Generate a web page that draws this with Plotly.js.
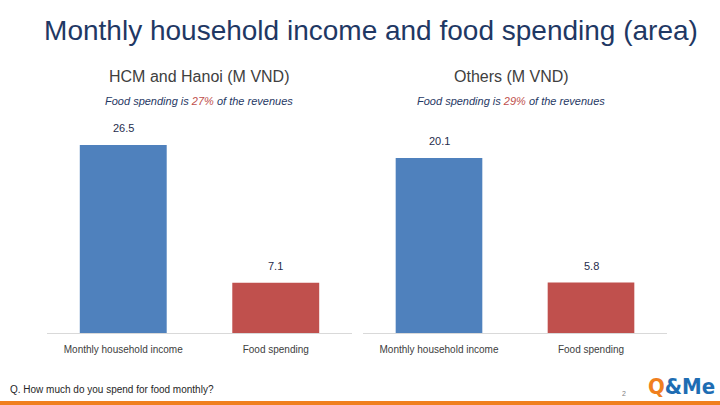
<!DOCTYPE html>
<html>
<head>
<meta charset="utf-8">
<script src="https://cdn.plot.ly/plotly-3.0.1.min.js"></script>
<style>html,body{margin:0;padding:0;background:#fff;}#chart{width:720px;height:405px;}</style>
</head>
<body>
<div id="chart"></div>
<script>
const categories = ["Monthly household income", "Food spending"];
const hcmValues = [26.5, 7.1];
const otherValues = [20.1, 5.8];
const hcmShare = "27%";
const otherShare = "29%";
const barColors = ["#4F81BD", "#C0504D"];

const FONT = "Liberation Sans, Arial, sans-serif";
const NAVY = "#1F3864";

const traces = [
  {type: "bar", x: categories, y: hcmValues, xaxis: "x", yaxis: "y",
   marker: {color: barColors}, hoverinfo: "none"},
  {type: "bar", x: categories, y: otherValues, xaxis: "x2", yaxis: "y2",
   marker: {color: barColors}, hoverinfo: "none"}
];

const annotations = [];
hcmValues.forEach((v, i) => annotations.push({
  xref: "x", yref: "y", x: categories[i], y: v, text: v.toFixed(1),
  showarrow: false, xanchor: "center", yanchor: "bottom", yshift: 9,
  font: {family: FONT, size: 11, color: "#1F2D4D"}
}));
otherValues.forEach((v, i) => annotations.push({
  xref: "x2", yref: "y2", x: categories[i], y: v, text: v.toFixed(1),
  showarrow: false, xanchor: "center", yanchor: "bottom", yshift: 9,
  font: {family: FONT, size: 11, color: "#1F2D4D"}
}));

function paperNote(x, y, text, font, xanchor) {
  return {xref: "paper", yref: "paper", x: x / 720, y: 1 - y / 405, text: text,
          showarrow: false, xanchor: xanchor || "center", yanchor: "middle", font: font};
}

annotations.push(
  paperNote(199, 76, "HCM and Hanoi (M VND)", {family: FONT, size: 16, color: "#404040"}),
  paperNote(511, 76, "Others (M VND)", {family: FONT, size: 16, color: "#404040"}),
  paperNote(199, 101, "<i>Food spending is <span style='color:#C0504D'>" + hcmShare + "</span> of the revenues</i>",
            {family: FONT, size: 11, color: NAVY}),
  paperNote(511, 101, "<i>Food spending is <span style='color:#C0504D'>" + otherShare + "</span> of the revenues</i>",
            {family: FONT, size: 11, color: NAVY}),
  paperNote(8, 389, "Q. How much do you spend for food monthly?", {family: FONT, size: 10, color: "#262626"}, "left"),
  paperNote(624, 393, "2", {family: FONT, size: 7, color: "#7F7F7F"}),
  paperNote(681, 386, "<b><span style='color:#F07F1E'>Q</span>&amp;Me</b>",
            {family: "DejaVu Sans Condensed, DejaVu Sans, sans-serif", size: 22, color: "#1E6DB3"})
);

const layout = {
  width: 720, height: 405,
  margin: {l: 0, r: 0, t: 0, b: 0},
  paper_bgcolor: "#ffffff", plot_bgcolor: "#ffffff",
  showlegend: false,
  bargap: 0.43,
  title: {text: "Monthly household income and food spending (area)",
          font: {family: FONT, size: 28, color: NAVY},
          x: 371/720, xanchor: "center", y: 1 - 30/405, yanchor: "middle"},
  xaxis: {domain: [47/720, 352/720], anchor: "y", showline: true, linecolor: "#D9D9D9", linewidth: 1,
          ticks: "", showgrid: false, fixedrange: true, ticklabelstandoff: 7,
          tickfont: {family: FONT, size: 10, color: "#404040"}},
  yaxis: {domain: [1 - 333/405, 1 - 130/405], range: [0, 203/7.094], visible: false, fixedrange: true},
  xaxis2: {domain: [363/720, 667/720], anchor: "y2", showline: true, linecolor: "#D9D9D9", linewidth: 1,
          ticks: "", showgrid: false, fixedrange: true, ticklabelstandoff: 7,
          tickfont: {family: FONT, size: 10, color: "#404040"}},
  yaxis2: {domain: [1 - 333/405, 1 - 130/405], range: [0, 203/8.706], visible: false, fixedrange: true},
  shapes: [
    {type: "rect", xref: "paper", yref: "paper", x0: 0, x1: 1, y0: 0, y1: 4/405,
     fillcolor: "#F07F1E", line: {width: 0}}
  ],
  annotations: annotations
};

Plotly.newPlot("chart", traces, layout, {displayModeBar: false, staticPlot: true});
</script>
</body>
</html>
